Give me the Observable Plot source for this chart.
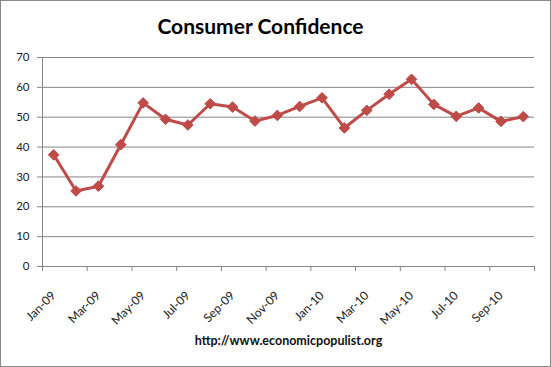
<!DOCTYPE html>
<html>
<head>
<meta charset="utf-8">
<script src="https://cdn.jsdelivr.net/npm/d3@7"></script>
<script src="https://cdn.jsdelivr.net/npm/@observablehq/plot@0.6"></script>
<style>
  html, body { margin: 0; padding: 0; background: #fff; }
  #wrap { position: relative; width: 551px; height: 367px; overflow: hidden; background: #fff; font-family: Lato, "Open Sans", sans-serif; }
  #frame { position: absolute; left: 0; top: 0; width: 551px; height: 367px; box-sizing: border-box; border: 1px solid #8a8a8a; pointer-events: none; }
  #title { position: absolute; left: 0; top: 12px; width: 521px; text-align: center; font-weight: bold; font-size: 21px; line-height: 28px; color: #000; }
  #chart { position: absolute; left: 0; top: 45px; }
  #caption { position: absolute; left: 0; top: 333px; width: 577px; text-align: center; font-weight: bold; font-size: 12.5px; line-height: 16px; color: #111; }
</style>
</head>
<body>
<div id="wrap">
  <div id="title">Consumer Confidence</div>
  <div id="chart"></div>
  <div id="caption">http://www.economicpopulist.org</div>
  <div id="frame"></div>
</div>
<script>
const months = ["Jan-09","Feb-09","Mar-09","Apr-09","May-09","Jun-09","Jul-09","Aug-09","Sep-09","Oct-09","Nov-09","Dec-09",
                "Jan-10","Feb-10","Mar-10","Apr-10","May-10","Jun-10","Jul-10","Aug-10","Sep-10","Oct-10"];
const values = [37.4, 25.3, 26.9, 40.8, 54.8, 49.3, 47.4, 54.5, 53.4, 48.7, 50.6, 53.6,
                56.5, 46.4, 52.3, 57.7, 62.7, 54.3, 50.3, 53.1, 48.6, 50.2];
const yTicks = [0, 10, 20, 30, 40, 50, 60, 70];

const data = months.map((m, i) => ({pos: i + 0.5, month: m, value: values[i]}));
const boundaryTicks = d3.range(0, months.length + 1, 2);
const labelTicks = data.filter((d, i) => i % 2 === 0).map(d => d.pos);
const labelOf = new Map(data.map(d => [d.pos, d.month]));

const color = "#BE4B48";
const grey = "#868686";

const chart = Plot.plot({
  width: 551,
  height: 285,
  marginTop: 12,
  marginBottom: 64,
  marginLeft: 42,
  marginRight: 17,
  style: {fontFamily: "Lato, 'Open Sans', sans-serif", fontSize: "12px", color: "#222", background: "transparent"},
  x: {type: "linear", domain: [0, months.length]},
  y: {domain: [0, 70]},
  marks: [
    Plot.gridY(yTicks.filter(t => t > 0), {stroke: grey, strokeOpacity: 1, strokeWidth: 1}),
    Plot.ruleY([0], {stroke: grey, strokeWidth: 1}),
    Plot.ruleX([0], {stroke: grey, strokeWidth: 1}),
    Plot.axisY({ticks: yTicks, tickSize: 5, tickPadding: 8, stroke: grey, strokeOpacity: 1, fill: "#222", fontSize: 11.5, label: null}),
    Plot.axisX({ticks: boundaryTicks, tickSize: 5, tickFormat: () => "", stroke: grey, strokeOpacity: 1, label: null}),
    Plot.axisX({ticks: labelTicks, tickSize: 0, tickPadding: 14, dx: 0, dy: 13, tickRotate: -45, tickFormat: d => labelOf.get(d), fill: "#222", fontSize: 12, label: null}),
    Plot.line(data, {x: "pos", y: "value", stroke: color, strokeWidth: 3}),
    Plot.dot(data, {x: "pos", y: "value", symbol: "diamond2", r: 4.8, fill: color, stroke: color, strokeWidth: 1})
  ]
});
document.getElementById("chart").appendChild(chart);
</script>
</body>
</html>
